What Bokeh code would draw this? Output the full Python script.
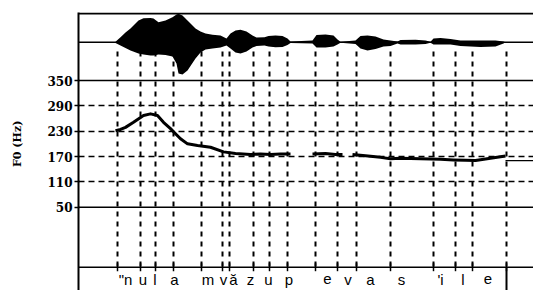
from bokeh.plotting import figure
from bokeh.models import Range1d, FixedTicker, Span
from bokeh.core.properties import value
from bokeh.embed import file_html
from bokeh.resources import INLINE

# ---- data -------------------------------------------------------------
# segment boundaries (s)
boundaries = [0.195, 0.31, 0.385, 0.475, 0.615, 0.72, 0.755, 0.875, 0.955,
              1.045, 1.185, 1.295, 1.39, 1.56, 1.775, 1.885, 1.97, 2.14]
# segment labels and their anchor times (s)
seg_labels = ['"n', 'u', 'l', 'a', 'm', 'v', 'ă', 'z', 'u', 'p', 'e', 'v',
              'a', 's', "'i", 'l', 'e']
label_times = [0.235, 0.3225, 0.3825, 0.48, 0.6475, 0.725, 0.775, 0.86, 0.95,
               1.0525, 1.245, 1.3475, 1.46, 1.615, 1.81, 1.9225, 2.0475]

# waveform envelope (relative amplitude)
wave_t = [0.185, 0.21, 0.235, 0.26, 0.30, 0.325, 0.36, 0.375, 0.40, 0.435,
          0.47, 0.49, 0.50, 0.52, 0.545, 0.565, 0.585, 0.61, 0.635, 0.67,
          0.71, 0.74, 0.76, 0.785, 0.81, 0.84, 0.87, 0.89, 0.93, 0.95,
          0.985, 1.02, 1.045, 1.06, 1.17, 1.19, 1.235, 1.275, 1.295, 1.31,
          1.385, 1.41, 1.445, 1.485, 1.525, 1.56, 1.595, 1.61, 1.685, 1.735,
          1.76, 1.775, 1.81, 1.86, 1.91, 2.01, 2.085, 2.125, 2.135]
wave_upper = [0.02, 0.17, 0.34, 0.475, 0.755, 0.835, 0.84, 0.825, 0.695, 0.755,
              0.87, 0.965, 0.99, 0.93, 0.755, 0.615, 0.475, 0.37, 0.30, 0.26,
              0.235, 0.13, 0.305, 0.41, 0.435, 0.37, 0.235, 0.165, 0.175, 0.215,
              0.235, 0.215, 0.13, 0.025, 0.06, 0.25, 0.27, 0.235, 0.095, 0.02,
              0.06, 0.215, 0.235, 0.20, 0.095, 0.06, 0.025, 0.08, 0.085, 0.06,
              0.015, 0.13, 0.15, 0.11, 0.06, 0.06, 0.06, 0.025, 0.0]
wave_lower = [-0.03, -0.115, -0.20, -0.29, -0.395, -0.43, -0.465, -0.465, -0.43, -0.45,
              -0.495, -0.74, -1.09, -1.125, -0.985, -0.775, -0.565, -0.36, -0.255, -0.22,
              -0.185, -0.115, -0.22, -0.36, -0.395, -0.325, -0.185, -0.13, -0.115, -0.15,
              -0.175, -0.17, -0.10, -0.03, -0.045, -0.185, -0.185, -0.15, -0.08, -0.02,
              -0.06, -0.22, -0.29, -0.235, -0.15, -0.13, -0.045, -0.08, -0.08, -0.06,
              -0.015, -0.08, -0.08, -0.08, -0.13, -0.165, -0.15, -0.045, 0.0]

# F0 contour (Hz), voiced stretches
f0_t1 = [0.185, 0.21, 0.235, 0.275, 0.325, 0.36, 0.395, 0.425, 0.46, 0.485,
         0.51, 0.545, 0.595, 0.66, 0.725, 0.785, 0.86, 0.91, 0.96, 1.01, 1.06]
f0_hz1 = [231, 234, 239, 251, 267, 271, 267, 251, 236, 224,
          212, 200, 196, 192, 181, 177, 175, 176, 175, 176, 176]
f0_t2 = [1.17, 1.235, 1.285, 1.32]
f0_hz2 = [176, 177, 175, 175]
f0_t3 = [1.37, 1.435, 1.51, 1.56, 1.61, 1.71, 1.81, 1.875, 1.935, 1.985, 2.06, 2.135]
f0_hz3 = [175, 172, 168, 164.5, 166, 164.5, 163.5, 162, 161, 160.5, 166, 171]
tail_t = [2.135, 2.275]
tail_hz = [160.5, 160.5]

f0_ticks = [350, 290, 230, 170, 110, 50]
f0_grid = [290, 230, 170, 110]
y_title = "F0 (Hz)"

# ---- layout constants ------------------------------------------------
HZ_PER_PX = 300 / 126.7
Y_TOP = 350 + 68 * HZ_PER_PX       # frame top
Y_BOT = 350 - 210 * HZ_PER_PX      # frame bottom
TIER_TOP = 350 - 186.7 * HZ_PER_PX
BOUND_TOP = 350 + 29 * HZ_PER_PX
LABEL_Y = 350 - 198.5 * HZ_PER_PX
TICK = 4 * HZ_PER_PX

p = figure(width=533, height=290, output_backend="svg", toolbar_location=None,
           x_range=Range1d(0, 2.275), y_range=Range1d(Y_BOT, Y_TOP),
           x_axis_location=None, min_border_left=78, min_border_right=0,
           min_border_top=12, min_border_bottom=0)
p.extra_y_ranges = {"wave": Range1d(-(290 - 41.7) / 28.7, (41.7 - 12) / 28.7)}
p.outline_line_color = None
p.background_fill_color = "white"
p.border_fill_color = "white"

ax = p.yaxis[0]
ax.ticker = FixedTicker(ticks=f0_ticks)
ax.axis_line_width = 2
ax.axis_line_color = "black"
ax.major_tick_out = 4
ax.major_tick_in = 1
ax.major_tick_line_width = 1.5
ax.major_tick_line_color = "black"
ax.minor_tick_line_color = None
ax.major_label_standoff = 2
ax.major_label_text_font = "DejaVu Serif"
ax.major_label_text_font_size = "12px"
ax.major_label_text_font_style = "bold"
ax.major_label_text_color = "black"
# title, padded with no-break spaces so its visible part sits beside the F0 scale
ax.axis_label = "\u00a0" * 4 + y_title
ax.axis_label_text_font = "DejaVu Serif"
ax.axis_label_text_font_size = "11px"
ax.axis_label_text_font_style = "bold"
ax.axis_label_text_color = "black"
ax.axis_label_standoff = 20

p.ygrid.ticker = FixedTicker(ticks=f0_grid)
p.ygrid.grid_line_color = "black"
p.ygrid.grid_line_dash = "6 4"
p.ygrid.grid_line_width = 1.3
p.xgrid.visible = False

# frame / tier lines
p.add_layout(Span(location=1.0, dimension="width", y_range_name="wave",
                  line_color="black", line_width=2))
p.add_layout(Span(location=0.0, dimension="width", y_range_name="wave",
                  line_color="black", line_width=1.5))
for loc in (f0_ticks[0], f0_ticks[-1], TIER_TOP):
    p.add_layout(Span(location=loc, dimension="width", line_color="black",
                      line_width=1.5))

# waveform
p.varea(x=wave_t, y1=wave_lower, y2=wave_upper, fill_color="black",
        y_range_name="wave")

# segment boundaries
n = len(boundaries)
p.segment(x0=boundaries, x1=boundaries, y0=[BOUND_TOP] * n, y1=[TIER_TOP] * n,
          line_color="black", line_width=2, line_dash="5 5")
p.segment(x0=boundaries, x1=boundaries, y0=[TIER_TOP + TICK] * n,
          y1=[TIER_TOP - TICK] * n, line_color="black", line_width=1.5)
p.segment(x0=[boundaries[-1]], x1=[boundaries[-1]], y0=[TIER_TOP], y1=[Y_BOT],
          line_color="black", line_width=2)

# F0 contour
p.multi_line(xs=[f0_t1, f0_t2, f0_t3], ys=[f0_hz1, f0_hz2, f0_hz3],
             line_color="black", line_width=3, line_join="round")
p.line(tail_t, tail_hz, line_color="black", line_width=1.2)

# segment labels
p.text(x=label_times, y=[LABEL_Y] * len(seg_labels), text=seg_labels,
       text_font=value("Liberation Sans"), text_font_size="15px",
       text_align="center", text_baseline="alphabetic", text_color="black")

open("out.html", "w").write(file_html(p, INLINE))
